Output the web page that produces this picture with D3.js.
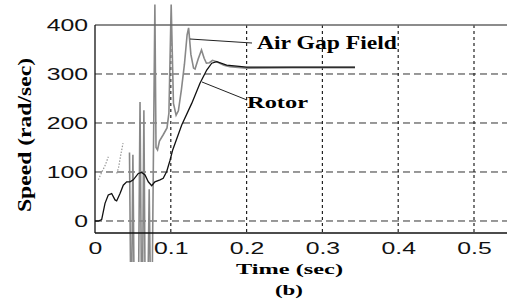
<!DOCTYPE html>
<html>
<head>
<meta charset="utf-8">
<script src="https://cdn.jsdelivr.net/npm/d3@7"></script>
<style>
  body { margin: 0; background: #fff; }
  .serif { font-family: "Liberation Serif", "Times New Roman", "DejaVu Serif", serif; font-weight: bold; }
</style>
</head>
<body>
<div id="chart"></div>
<script>
var width = 507,
    height = 304;

// values: time (sec) and speed (rad/sec)
var rotorTime  = [0, 0.0044, 0.0088, 0.0132, 0.0175, 0.022, 0.0264, 0.0286, 0.033, 0.0373, 0.0418, 0.0462, 0.0505, 0.0571, 0.0616, 0.066, 0.0703, 0.0748, 0.079, 0.0858, 0.090, 0.0946, 0.099, 0.1025, 0.1144, 0.1276, 0.1385, 0.1474, 0.154, 0.1606, 0.1737, 0.2, 0.343];
var rotorSpeed = [0, 0, 3, 36, 53, 56, 43, 41, 56, 73, 80, 80, 84, 97, 99, 94, 80, 72, 80, 84, 87, 101, 124, 145, 196, 240, 281, 308, 322, 325, 318, 314, 314];

var gapTime  = [0.0455, 0.047, 0.0485, 0.05, 0.0515, 0.0575, 0.0594, 0.0612, 0.0628, 0.0645, 0.066, 0.07, 0.0715, 0.073, 0.0755, 0.079, 0.0805, 0.0825, 0.085, 0.09, 0.095, 0.0975, 0.1005, 0.1035, 0.107, 0.11, 0.114, 0.118, 0.1215, 0.1235, 0.1265, 0.13, 0.132, 0.136, 0.1405, 0.144, 0.147, 0.151, 0.155, 0.1606, 0.17, 0.178, 0.2, 0.26, 0.343];
var gapSpeed = [140, -120, -120, 135, -120, -120, 243, -120, -120, 226, -120, -120, 65, -120, -120, 442, 150, 145, 163, 176, 190, 220, 442, 240, 216, 225, 268, 320, 380, 394, 340, 312, 310, 330, 349, 332, 322, 323, 328, 325, 318, 315, 312, 313, 313];

// faint dotted pieces at the start of the air gap trace
var gapDotTime1  = [0.0044, 0.009, 0.013, 0.0176];
var gapDotSpeed1 = [84, 100, 112, 131];
var gapDotTime2  = [0.0286, 0.031, 0.034, 0.037];
var gapDotSpeed2 = [97, 108, 135, 159];

var xTicks = [0, 0.1, 0.2, 0.3, 0.4, 0.5];
var yTicks = [0, 100, 200, 300, 400];

var x = d3.scaleLinear().domain([0, 0.55]).range([95, 95 + 0.55 * 758]);
var y = d3.scaleLinear().domain([-24.5, 400]).range([233, 25]);

var svg = d3.select("#chart")
  .append("svg")
  .attr("width", width)
  .attr("height", height)
  .style("display", "block");

svg.append("defs").append("clipPath")
  .attr("id", "clip")
  .append("rect")
  .attr("x", 95).attr("y", 4)
  .attr("width", 420).attr("height", 258);

// grid
svg.selectAll(".hgrid")
  .data(yTicks.filter(function(d) { return d < 400; }))
  .enter().append("line")
  .attr("x1", 95).attr("x2", width)
  .attr("y1", function(d) { return y(d); })
  .attr("y2", function(d) { return y(d); })
  .attr("stroke", "#333")
  .attr("stroke-width", 1)
  .attr("stroke-dasharray", "7,4");

svg.selectAll(".vgrid")
  .data(xTicks.filter(function(d) { return d > 0; }))
  .enter().append("line")
  .attr("x1", function(d) { return x(d); })
  .attr("x2", function(d) { return x(d); })
  .attr("y1", 25).attr("y2", 233)
  .attr("stroke", "#222")
  .attr("stroke-width", 1.2)
  .attr("stroke-dasharray", "3,3");

// curves
function zip(t, v) { return t.map(function(d, i) { return [d, v[i]]; }); }

var line = d3.line()
  .x(function(d) { return x(d[0]); })
  .y(function(d) { return y(d[1]); });

var curves = svg.append("g").attr("clip-path", "url(#clip)");

curves.append("path")
  .attr("d", line(zip(gapDotTime1, gapDotSpeed1)))
  .attr("fill", "none").attr("stroke", "#999")
  .attr("stroke-width", 1.2).attr("stroke-dasharray", "1.5,1.5");

curves.append("path")
  .attr("d", line(zip(gapDotTime2, gapDotSpeed2)))
  .attr("fill", "none").attr("stroke", "#999")
  .attr("stroke-width", 1.2).attr("stroke-dasharray", "1.5,1.5");

curves.append("path")
  .attr("d", line(zip(gapTime, gapSpeed)))
  .attr("fill", "none").attr("stroke", "#888")
  .attr("stroke-width", 1.6);

curves.append("path")
  .attr("d", line(zip(rotorTime, rotorSpeed)))
  .attr("fill", "none").attr("stroke", "#111")
  .attr("stroke-width", 1.3);

// frame
svg.append("line").attr("x1", 95).attr("x2", width).attr("y1", 25).attr("y2", 25)
  .attr("stroke", "#666").attr("stroke-width", 1.3);
svg.append("line").attr("x1", 95).attr("x2", width).attr("y1", 233).attr("y2", 233)
  .attr("stroke", "#111").attr("stroke-width", 1.3);
svg.append("line").attr("x1", 95).attr("x2", 95).attr("y1", 25).attr("y2", 233)
  .attr("stroke", "#111").attr("stroke-width", 1.3);

// axes (labels only)
var yAxis = svg.append("g")
  .attr("transform", "translate(95,0)")
  .call(d3.axisLeft(y).tickValues(yTicks).tickSize(0).tickFormat(d3.format("d")));
yAxis.select(".domain").remove();
yAxis.selectAll("text")
  .attr("x", 0).attr("dy", "0.36em")
  .attr("transform", "translate(-7,0) scale(1.55,1)")
  .attr("fill", "#111")
  .style("font-family", "'Liberation Sans', Arial, sans-serif")
  .style("font-size", "16px");

var xAxis = svg.append("g")
  .attr("transform", "translate(0,233)")
  .call(d3.axisBottom(x).tickValues(xTicks).tickSize(0)
    .tickFormat(function(d) { return d === 0 ? "0" : d3.format(".1f")(d); }));
xAxis.select(".domain").remove();
xAxis.selectAll("text")
  .attr("y", 0).attr("dy", 0)
  .attr("transform", "translate(0,21) scale(1.55,1)")
  .attr("fill", "#111")
  .style("font-family", "'Liberation Sans', Arial, sans-serif")
  .style("font-size", "16px");

// titles
svg.append("text")
  .attr("class", "serif")
  .attr("transform", "translate(31,135) rotate(-90)")
  .attr("text-anchor", "middle")
  .style("font-size", "19px")
  .attr("textLength", 154).attr("lengthAdjust", "spacingAndGlyphs")
  .text("Speed (rad/sec)");

svg.append("text")
  .attr("class", "serif")
  .attr("x", 289.5).attr("y", 274)
  .attr("text-anchor", "middle")
  .style("font-size", "15px")
  .attr("textLength", 107).attr("lengthAdjust", "spacingAndGlyphs")
  .text("Time (sec)");

svg.append("text")
  .attr("class", "serif")
  .attr("x", 289).attr("y", 295)
  .attr("text-anchor", "middle")
  .style("font-size", "15px")
  .attr("textLength", 28).attr("lengthAdjust", "spacingAndGlyphs")
  .text("(b)");

// annotations
svg.append("line").attr("x1", 190).attr("y1", 39).attr("x2", 252).attr("y2", 43)
  .attr("stroke", "#222").attr("stroke-width", 1);
svg.append("text")
  .attr("class", "serif")
  .attr("x", 257).attr("y", 49)
  .style("font-size", "19px")
  .attr("textLength", 140).attr("lengthAdjust", "spacingAndGlyphs")
  .text("Air Gap Field");

svg.append("line").attr("x1", 202).attr("y1", 82).attr("x2", 247).attr("y2", 100)
  .attr("stroke", "#222").attr("stroke-width", 1);
svg.append("text")
  .attr("class", "serif")
  .attr("x", 247).attr("y", 108)
  .style("font-size", "17px")
  .attr("textLength", 61).attr("lengthAdjust", "spacingAndGlyphs")
  .text("Rotor");
</script>
</body>
</html>
